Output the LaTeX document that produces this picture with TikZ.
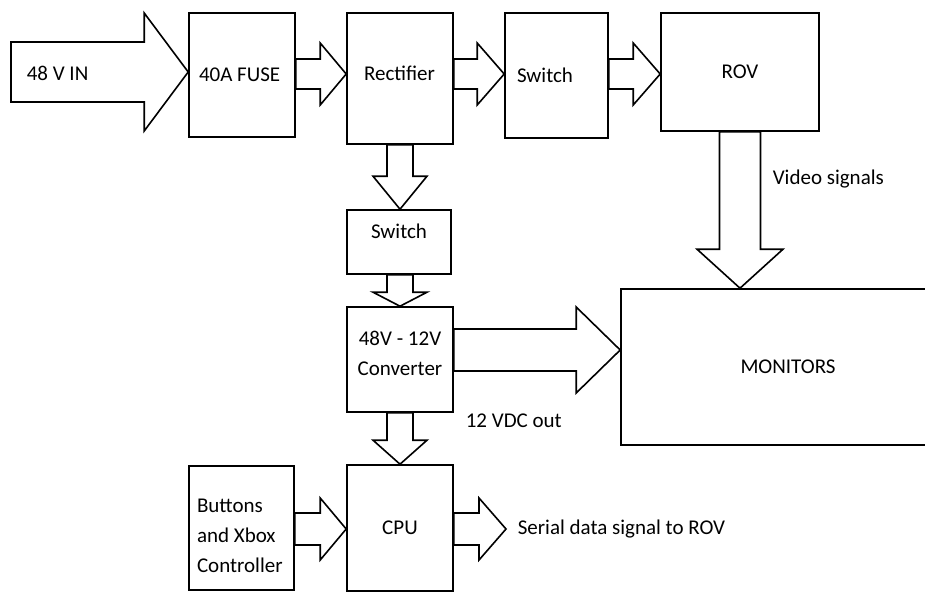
\documentclass[tikz,border=0pt]{standalone}
\usepackage{fontspec}
\setmainfont{Carlito}
\usetikzlibrary{calc}
% fat arrow to the right: tail, tip, body half width, head half width, head length
\newcommand{\harrow}[5]{\draw[fat] let \p1=#1, \p2=#2 in (\x1,\y2+#3) -- (\x2-#5,\y2+#3) -- (\x2-#5,\y2+#4) -- (\p2) -- (\x2-#5,\y2-#4) -- (\x2-#5,\y2-#3) -- (\x1,\y2-#3) -- cycle;}
% fat arrow downwards
\newcommand{\varrow}[5]{\draw[fat] let \p1=#1, \p2=#2 in (\x2-#3,\y1) -- (\x2-#3,\y2+#5) -- (\x2-#4,\y2+#5) -- (\p2) -- (\x2+#4,\y2+#5) -- (\x2+#3,\y2+#5) -- (\x2+#3,\y1) -- cycle;}
\begin{document}
\begin{tikzpicture}[x=1pt, y=-1pt, line width=1.6pt,
  every node/.style={font=\fontsize{21}{30}\selectfont},
  box/.style={draw, rectangle, inner sep=0pt},
  lbl/.style={right, inner sep=0pt},
  fat/.style={draw, line join=miter}]
\useasboundingbox (0,0) rectangle (925,592);
% top row
\node[box, minimum width=106, minimum height=124, text width=86pt, inner xsep=10pt, align=flush left] (fuse) at (242,75) {40A FUSE};
\node[box, minimum width=106, minimum height=131, text width=72pt, inner xsep=17pt, align=flush left, text depth=11pt] (rect) at (400,78.5) {Rectifier};
\node[box, minimum width=103, minimum height=125, text width=79pt, inner xsep=12pt, align=flush left] (sw) at (556.5,75.5) {Switch};
\node[box, minimum width=158, minimum height=118] (rov) at (740,72) {ROV};
% converter column
\node[box, minimum width=104, minimum height=64, text depth=22pt] (sw2) at (399,242) {Switch};
\node[box, minimum width=106, minimum height=105, align=center, text depth=13pt] (conv) at (400,359.5) {48V - 12V\\Converter};
\node[box, minimum width=106, minimum height=126] (cpu) at (400,528) {CPU};
\node[box, minimum width=105, minimum height=124, text width=89pt, inner xsep=8pt, align=flush left, text height=29pt] (btn) at (241.5,528) {Buttons\\and Xbox\\Controller};
\node[box, minimum width=334, minimum height=156] (mon) at (788,367) {MONITORS};
% free ends
\coordinate (src) at (11,72);
\coordinate (serial) at (506,529);
% arrows
\harrow{(src)}{(fuse.west |- src)}{30}{59}{44}
\harrow{(fuse.east |- 0,74)}{(rect.west |- 0,74)}{15}{31}{26}
\harrow{(rect.east |- 0,74)}{(sw.west |- 0,74)}{15}{31}{27}
\harrow{(sw.east |- 0,74)}{(rov.west |- 0,74)}{15}{31}{27}
\varrow{(rect.south)}{(rect.south |- sw2.north)}{13}{27}{33}
\varrow{(sw2.south)}{(conv.north)}{13}{27}{14}
\varrow{(conv.south)}{(cpu.north)}{13}{27}{24}
\varrow{(rov.south)}{(rov.south |- mon.north)}{20.5}{43}{39}
\harrow{(conv.east |- 0,350)}{(mon.west |- 0,350)}{21}{43}{44}
\harrow{(btn.east |- 0,529)}{(cpu.west |- 0,529)}{16}{31}{26}
\harrow{(cpu.east |- 0,529)}{(serial)}{16}{31}{27}
% labels
\node[lbl] (srclbl) at (26,73) {48 V IN};
\node[lbl] (vidlbl) at (772,179) {Video signals};
\node[lbl] (vdclbl) at (465,421) {12 VDC out};
\node[lbl] (serlbl) at (517,529) {Serial data signal to ROV};
\end{tikzpicture}
\end{document}
